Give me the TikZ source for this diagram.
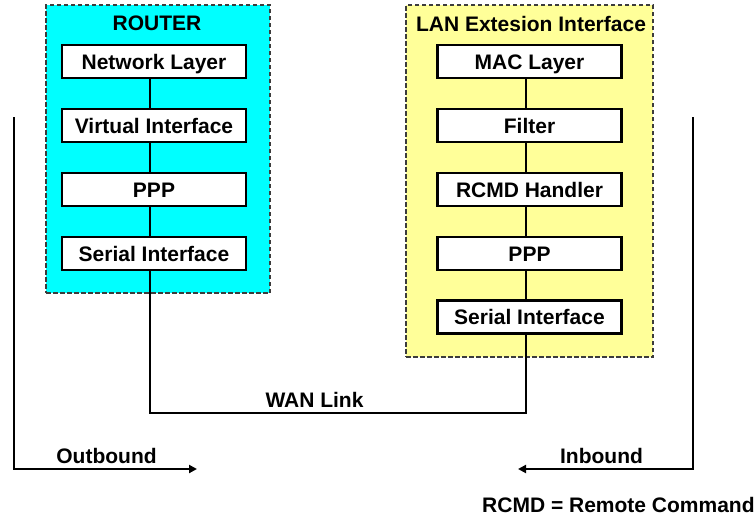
\documentclass[tikz,border=0pt]{standalone}
\usepackage{fontspec}
\setmainfont{Liberation Sans}
\usetikzlibrary{arrows.meta}
\definecolor{routercyan}{RGB}{0,255,255}
\definecolor{lanyellow}{RGB}{255,255,153}
\definecolor{dashgray}{RGB}{60,60,60}
\begin{document}
\begin{tikzpicture}[x=1pt,y=-1pt,
  every node/.style={font=\fontsize{21}{25}\selectfont\bfseries},
  container/.style={draw=dashgray, line width=1.4pt, dash pattern=on 4.5pt off 2.5pt, minimum width=#1, inner sep=0pt},
  layerbox/.style={draw=black, fill=white, line width=2.2pt, minimum width=184pt, minimum height=33pt, inner sep=0pt, text height=15pt, text depth=0pt},
  wire/.style={draw=black, line width=2.2pt},
  flow/.style={draw=black, line width=2.2pt, -{Triangle[length=8pt,width=8pt]}},
  lbl/.style={anchor=base}
]
\useasboundingbox (0,0) rectangle (754,517);

% containers
\node[container=224pt, minimum height=288pt, fill=routercyan] (router) at (158,149) {};
\node[container=247pt, minimum height=352pt, fill=lanyellow] (lan) at (529.5,181) {};

\node[lbl] (routertitle) at (157,30) {ROUTER};
\node[lbl] (lantitle) at (531,31) {LAN Extesion Interface};

% router stack
\node[layerbox] (rnl) at (154,61.5) {Network Layer};
\node[layerbox] (rvi) at (154,125.5) {Virtual Interface};
\node[layerbox] (rppp) at (154,189.5) {PPP};
\node[layerbox] (rsi) at (154,253.5) {Serial Interface};

% LAN stack
\node[layerbox] (lmac) at (529.5,61.5) {MAC Layer};
\node[layerbox] (lfil) at (529.5,125.5) {Filter};
\node[layerbox] (lrcmd) at (529.5,189.5) {RCMD Handler};
\node[layerbox] (lppp) at (529.5,253.5) {PPP};
\node[layerbox] (lsi) at (529.5,317) {Serial Interface};

% stack connectors
\draw[wire] ([xshift=-4pt]rnl.south) -- ([xshift=-4pt]rvi.north);
\draw[wire] ([xshift=-4pt]rvi.south) -- ([xshift=-4pt]rppp.north);
\draw[wire] ([xshift=-4pt]rppp.south) -- ([xshift=-4pt]rsi.north);
\draw[wire] ([xshift=-3.5pt]lmac.south) -- ([xshift=-3.5pt]lfil.north);
\draw[wire] ([xshift=-3.5pt]lfil.south) -- ([xshift=-3.5pt]lrcmd.north);
\draw[wire] ([xshift=-3.5pt]lrcmd.south) -- ([xshift=-3.5pt]lppp.north);
\draw[wire] ([xshift=-3.5pt]lppp.south) -- ([xshift=-3.5pt]lsi.north);

% WAN link
\coordinate (w1) at (150,413);
\coordinate (w2) at (526,413);
\draw[wire] ([xshift=-4pt]rsi.south) -- (w1) -- (w2) -- ([xshift=-3.5pt]lsi.south);
\node[lbl] (wan) at (314.5,407) {WAN Link};

% outbound / inbound
\coordinate (o1) at (14,117);
\coordinate (o2) at (14,469);
\coordinate (o3) at (197,469);
\draw[flow] (o1) -- (o2) -- (o3);
\node[lbl] (outb) at (106.5,463) {Outbound};

\coordinate (i1) at (693,117);
\coordinate (i2) at (693,469);
\coordinate (i3) at (518,469);
\draw[flow] (i1) -- (i2) -- (i3);
\node[lbl] (inb) at (601.5,463) {Inbound};

\node[anchor=base west, inner sep=0pt] (legend) at (482,512) {RCMD = Remote Command};
\end{tikzpicture}
\end{document}
